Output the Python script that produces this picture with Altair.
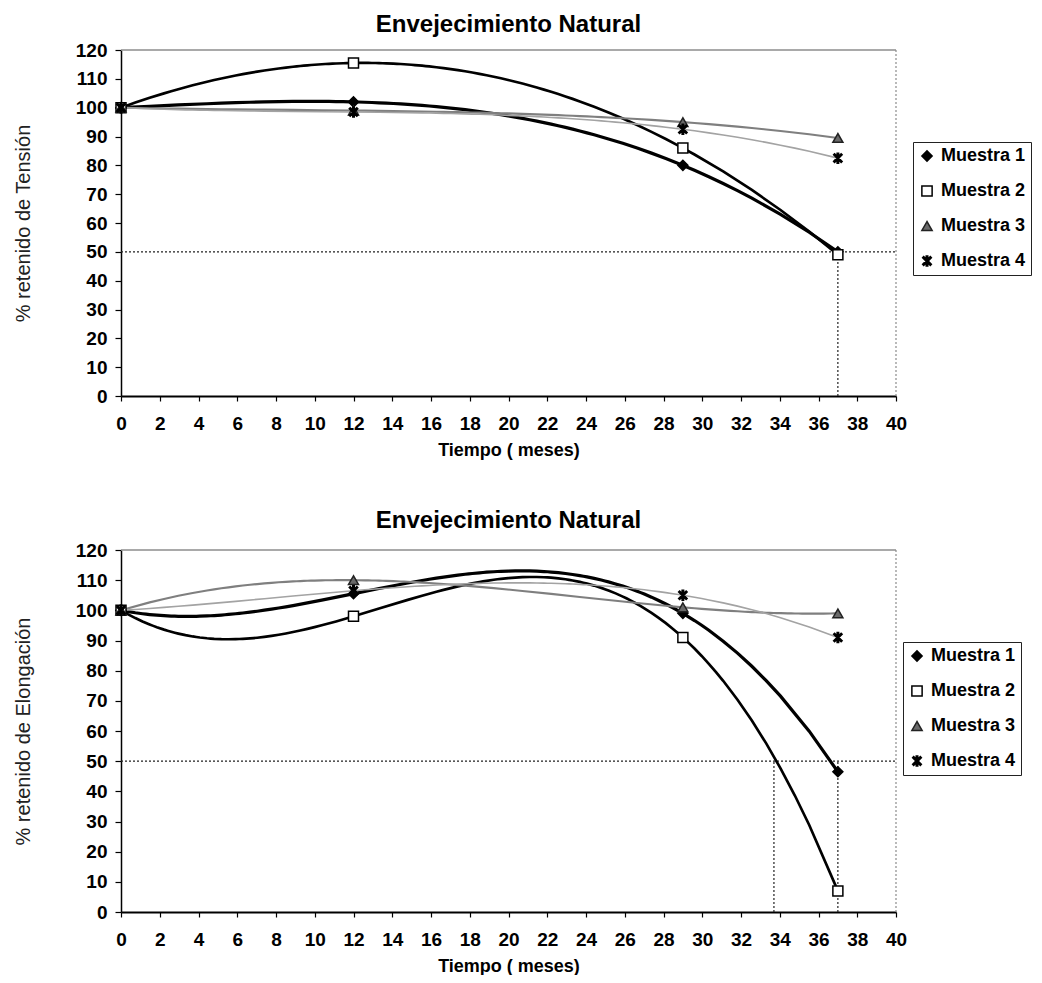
import altair as alt
import pandas as pd

# ---- data ----
meses = [0, 12, 29, 37]
series = ["Muestra 1", "Muestra 2", "Muestra 3", "Muestra 4"]

tension_m1 = [100, 102, 80, 50]
tension_m2 = [100, 115.5, 86, 49]
tension_m3 = [100, 99, 95, 89.5]
tension_m4 = [100, 98.5, 92.5, 82.5]

elong_m1 = [100, 105.5, 99, 46.5]
elong_m2 = [100, 98, 91, 7]
elong_m3 = [100, 110, 101, 99]
elong_m4 = [100, 106.5, 105, 91]

x_ticks = [0, 2, 4, 6, 8, 10, 12, 14, 16, 18, 20, 22, 24, 26, 28, 30, 32, 34, 36, 38, 40]
y_ticks = [0, 10, 20, 30, 40, 50, 60, 70, 80, 90, 100, 110, 120]
x_max = 40
y_max = 120
ref_level = 50
vlines_tension = [37]
vlines_elong = [33.7, 37]

title_text = "Envejecimiento Natural"
x_title = "Tiempo ( meses)"
y_title_top = "% retenido de  Tensión"
y_title_bottom = "% retenido de Elongación"

FONT = "Liberation Sans"

line_colors = ["#000000", "#000000", "#7f7f7f", "#a3a3a3"]
line_widths = [3.2, 1.6, 2.8, 1.4]
# bold asterisk (X plus vertical bar) as a filled outline
STAR = ("M-0.15,-1L0.15,-1L0.15,1L-0.15,1Z"
        "M-0.651,-0.849L0.849,0.651L0.651,0.849L-0.849,-0.651Z"
        "M-0.849,0.651L0.651,-0.849L0.849,-0.651L-0.651,0.849Z")
shapes = ["diamond", "square", "triangle-up", STAR]
fills = ["#000000", "#ffffff", "#6a6a6a", "#000000"]
strokes = ["#000000", "#000000", "#222222", "#000000"]


def make_df(cols):
    rows = []
    for s, vals in zip(series, cols):
        for t, v in zip(meses, vals):
            rows.append({"t": t, "v": v, "serie": s})
    return pd.DataFrame(rows)


xscale = alt.Scale(domain=[0, x_max], nice=False, zero=False)
yscale = alt.Scale(domain=[0, y_max], nice=False)


def panel(df, ytitle, vlines, legend_x, height, title_offset, xtitle_pad):
    xaxis = alt.Axis(values=x_ticks, title=x_title, tickSize=5, labelPadding=13,
                     titlePadding=xtitle_pad, labelFlush=False, labelOverlap=False,
                     titleFontWeight="bold", titleFontSize=18, labelFontSize=19,
                     labelFontWeight="bold", domainWidth=2, tickWidth=1.2)
    yaxis = alt.Axis(values=y_ticks, title=ytitle, tickSize=6, labelPadding=8,
                     titlePadding=42, labelFlush=False, labelOverlap=False,
                     titleFontWeight="normal", titleFontSize=20, labelFontSize=19,
                     labelFontWeight="bold", domainWidth=1.5, tickWidth=1.2,
                     titleColor="#222222")

    def X(field):
        return alt.X(field, type="quantitative", scale=xscale, axis=xaxis)

    def Y(field):
        return alt.Y(field, type="quantitative", scale=yscale, axis=yaxis)

    ref_df = pd.DataFrame({"y": [ref_level], "x0": [0], "x1": [x_max]})
    vl_df = pd.DataFrame({"x": vlines, "y0": [0] * len(vlines), "y1": [ref_level] * len(vlines)})
    top_df = pd.DataFrame({"y": [y_max], "x0": [0], "x1": [x_max]})
    right_df = pd.DataFrame({"x": [x_max], "y0": [0], "y1": [y_max]})

    hline = alt.Chart(ref_df).mark_rule(color="#222", strokeWidth=1.2, strokeDash=[2, 2]).encode(
        x=X("x0"), x2="x1", y=Y("y"))
    vline = alt.Chart(vl_df).mark_rule(color="#222", strokeWidth=1.2, strokeDash=[2, 2]).encode(
        x=X("x"), y=Y("y0"), y2="y1")
    top_border = alt.Chart(top_df).mark_rule(color="#8c8c8c", strokeWidth=1.5).encode(
        x=X("x0"), x2="x1", y=Y("y"))
    right_border = alt.Chart(right_df).mark_rule(color="#8c8c8c", strokeWidth=1.2, strokeDash=[2, 2]).encode(
        x=X("x"), y=Y("y0"), y2="y1")

    base = alt.Chart(df)
    # line scales take their domain from the data (sorted) so that they do not
    # merge with the (visible) marker legend
    lines = base.transform_regression(
        "t", "v", method="poly", order=3, groupby=["serie"]
    ).mark_line().encode(
        x=X("t"), y=Y("v"),
        color=alt.Color("serie:N", sort="ascending", scale=alt.Scale(range=line_colors), legend=None),
        size=alt.Size("serie:N", sort="ascending", scale=alt.Scale(range=line_widths), legend=None),
        detail="serie:N",
    )

    leg = alt.Legend(title=None, orient="none", legendX=legend_x, legendY=92,
                     labelFont=FONT, labelFontSize=18, labelFontWeight="bold",
                     labelColor="#000000", symbolSize=105, symbolStrokeWidth=1.5,
                     symbolOpacity=1, strokeColor="#222222", padding=5,
                     rowPadding=17, labelOffset=5)

    points = base.mark_point(size=100, opacity=1, strokeWidth=1.5).encode(
        x=X("t"), y=Y("v"),
        shape=alt.Shape("serie:N", scale=alt.Scale(domain=series, range=shapes), legend=leg),
        fill=alt.Fill("serie:N", scale=alt.Scale(domain=series, range=fills), legend=leg),
        stroke=alt.Stroke("serie:N", scale=alt.Scale(domain=series, range=strokes), legend=leg),
    )

    return alt.layer(top_border, right_border, hline, vline, lines, points).properties(
        width=775, height=height,
        title=alt.TitleParams(title_text, fontSize=24, fontWeight="bold", font=FONT,
                              offset=title_offset, anchor="middle", color="#000000"),
    )


top = panel(make_df([tension_m1, tension_m2, tension_m3, tension_m4]),
            y_title_top, vlines_tension, 792, 346, 4, 8)
bottom = panel(make_df([elong_m1, elong_m2, elong_m3, elong_m4]),
               y_title_bottom, vlines_elong, 782, 362, 8, 8)

chart = alt.vconcat(top, bottom, spacing=50).resolve_scale(
    shape="independent", fill="independent", stroke="independent",
    color="independent", size="independent",
).resolve_legend(
    shape="independent", fill="independent", stroke="independent",
).properties(
    padding={"left": 5, "top": 5, "right": 0, "bottom": 0}
).configure(font=FONT).configure_view(stroke=None).configure_axis(
    grid=False, domainColor="#000000", tickColor="#000000", labelColor="#000000",
    labelFont=FONT, titleFont=FONT,
)

chart.save("out.html", embed_options={"renderer": "svg", "actions": False})
